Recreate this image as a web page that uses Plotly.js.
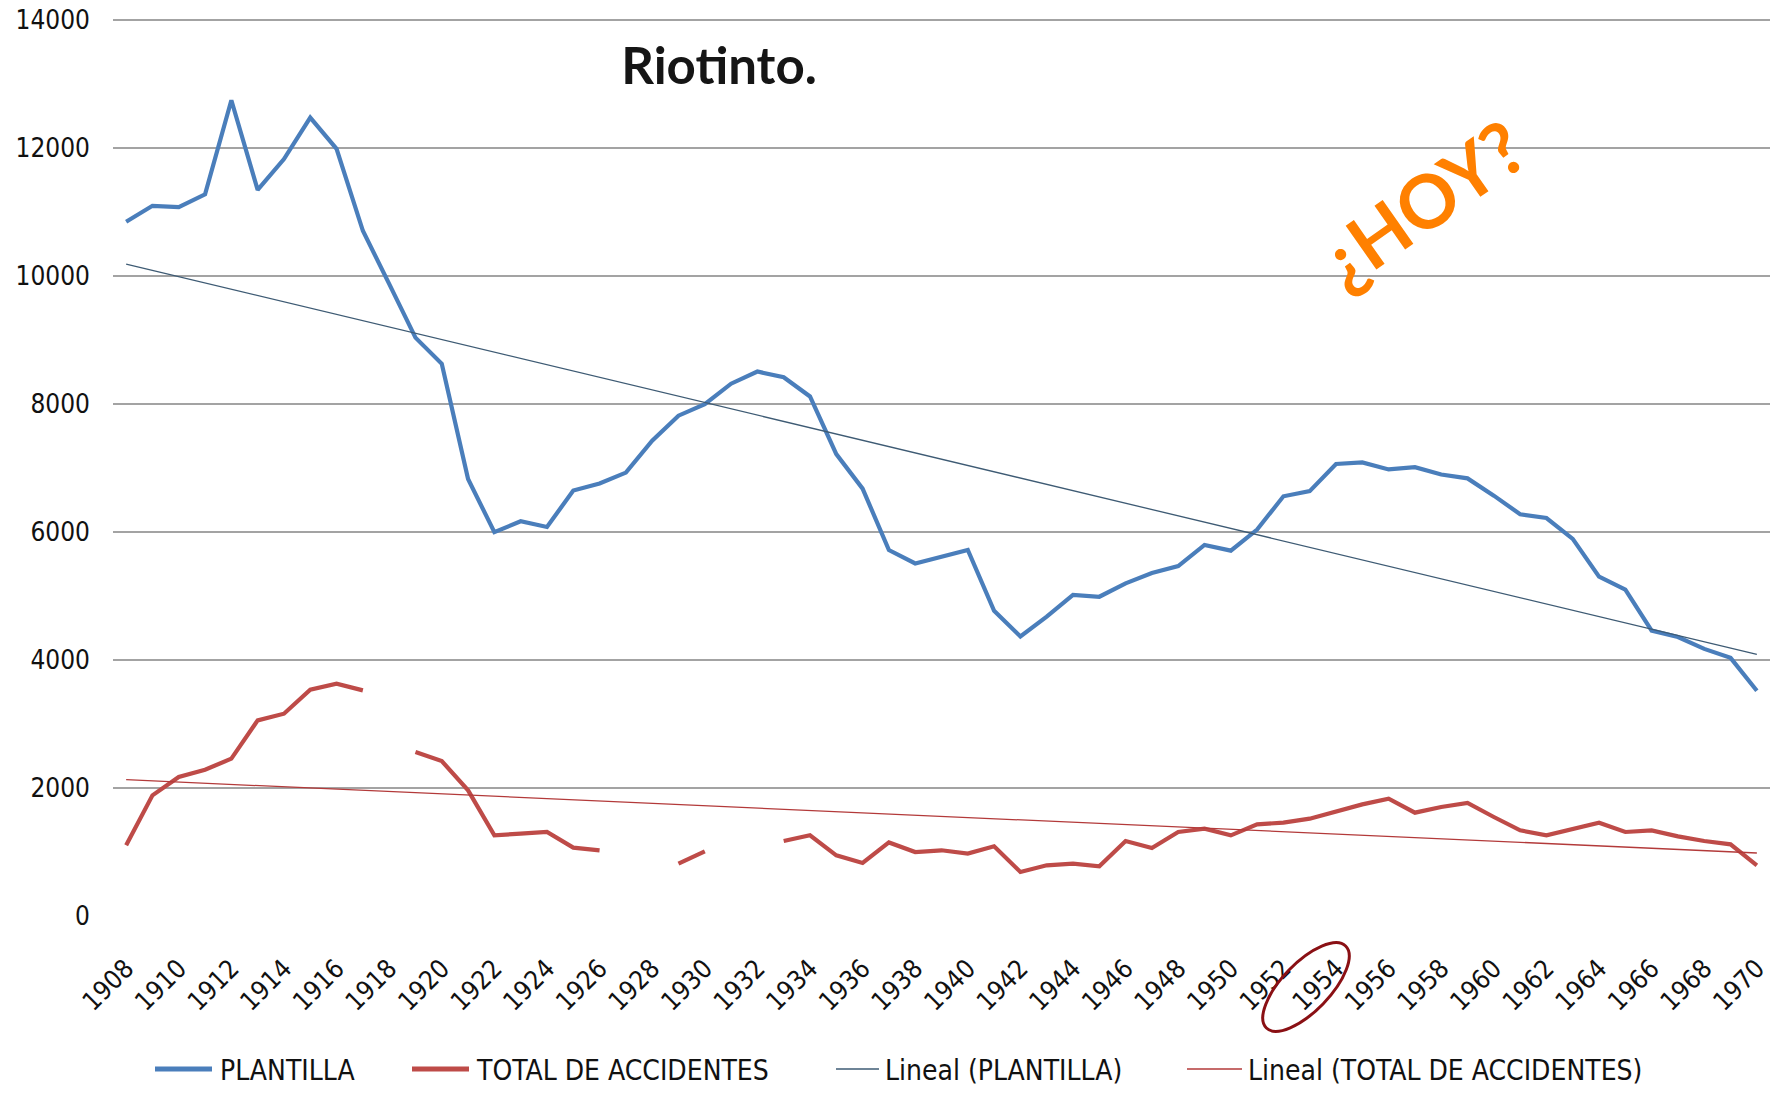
<!DOCTYPE html>
<html>
<head>
<meta charset="utf-8">
<script src="https://cdn.plot.ly/plotly-3.0.1.min.js"></script>
<style>
  html, body { margin: 0; padding: 0; background: #ffffff; }
  #chart { width: 1778px; height: 1096px; }
</style>
</head>
<body>
<div id="chart"></div>
<script>
// ---- Data ----
const years = [1908,1909,1910,1911,1912,1913,1914,1915,1916,1917,1918,1919,1920,1921,1922,1923,1924,1925,1926,1927,1928,1929,1930,1931,1932,1933,1934,1935,1936,1937,1938,1939,1940,1941,1942,1943,1944,1945,1946,1947,1948,1949,1950,1951,1952,1953,1954,1955,1956,1957,1958,1959,1960,1961,1962,1963,1964,1965,1966,1967,1968,1969,1970];

const plantilla = [10850,11100,11080,11280,12750,11350,11830,12480,11990,10710,9880,9040,8630,6830,6000,6170,6080,6650,6760,6930,7430,7820,8000,8320,8510,8420,8120,7220,6680,5720,5510,5620,5720,4770,4370,4680,5020,4990,5200,5360,5470,5800,5710,6040,6560,6640,7065,7090,6980,7015,6900,6840,6570,6280,6220,5895,5305,5100,4460,4360,4175,4035,3520];

const accidentes = [1105,1886,2172,2287,2459,3058,3162,3537,3631,3527,null,2563,2422,1964,1261,1287,1313,1069,1027,null,null,818,1011,null,null,1172,1261,948,828,1150,1000,1027,975,1089,688,792,818,777,1172,1063,1313,1365,1261,1433,1459,1521,1641,1745,1834,1615,1703,1766,1547,1339,1261,1365,1459,1313,1339,1245,1172,1120,792];

const trendYears = [1908, 1970];
const trendPlantilla = [10190, 4090];
const trendAccidentes = [2130, 985];

const seriesNames = ['PLANTILLA', 'TOTAL DE ACCIDENTES', 'Lineal (PLANTILLA)', 'Lineal (TOTAL DE ACCIDENTES)'];
const seriesColors = ['#4a7ebb', '#be4b48', '#3e5b74', '#b33a3a'];
const tickYears = [1908,1910,1912,1914,1916,1918,1920,1922,1924,1926,1928,1930,1932,1934,1936,1938,1940,1942,1944,1946,1948,1950,1952,1954,1956,1958,1960,1962,1964,1966,1968,1970];
const yTicks = [0,2000,4000,6000,8000,10000,12000,14000];
const chartTitle = 'Riotinto.';
const noteText = '¿HOY?';

// ---- Layout geometry ----
const W = 1778, H = 1096;
const M = {l: 113, r: 8, t: 19, b: 180};
const plotW = W - M.l - M.r, plotH = H - M.t - M.b;
const px2paperX = px => (px - M.l) / plotW;
const px2paperY = py => (H - M.b - py) / plotH;

const font = 'DejaVu Sans Condensed, DejaVu Sans, sans-serif';
const lineWidths = [4.2, 4.2, 1.3, 1.3];

const traces = [
  {x: years, y: plantilla, name: seriesNames[0], type: 'scatter', mode: 'lines',
   line: {color: seriesColors[0], width: lineWidths[0]}, connectgaps: false},
  {x: years, y: accidentes, name: seriesNames[1], type: 'scatter', mode: 'lines',
   line: {color: seriesColors[1], width: lineWidths[1]}, connectgaps: false},
  {x: trendYears, y: trendPlantilla, name: seriesNames[2], type: 'scatter', mode: 'lines',
   line: {color: seriesColors[2], width: lineWidths[2]}},
  {x: trendYears, y: trendAccidentes, name: seriesNames[3], type: 'scatter', mode: 'lines',
   line: {color: seriesColors[3], width: lineWidths[3]}}
];

// Ellipse around the circled year label (decoration), pixel space -> paper
function ellipsePath(cx, cy, a, b, angDeg) {
  const t = angDeg * Math.PI / 180;
  const ux = Math.cos(t), uy = -Math.sin(t);
  const vx = Math.sin(t), vy = Math.cos(t);
  const k = 0.5523;
  const P = (p, q) => [cx + p * ux + q * vx, cy + p * uy + q * vy];
  const toPaper = ([px, py]) => [px2paperX(px).toFixed(5), px2paperY(py).toFixed(5)];
  const pts = [
    [P(a, 0)],
    [P(a, k * b), P(k * a, b), P(0, b)],
    [P(-k * a, b), P(-a, k * b), P(-a, 0)],
    [P(-a, -k * b), P(-k * a, -b), P(0, -b)],
    [P(k * a, -b), P(a, -k * b), P(a, 0)]
  ];
  let d = 'M' + toPaper(pts[0][0]).join(',');
  for (let i = 1; i < pts.length; i++) {
    d += ' C' + pts[i].map(p => toPaper(p).join(',')).join(' ');
  }
  return d + ' Z';
}

// Legend drawn below the plot (sample line + label for each series)
const legendY = 1069;
const legendSampleX = [[155, 212], [412, 469], [836, 879], [1187, 1242]];
const legendTextX = [218, 474, 883, 1246];
const legendShapes = seriesNames.map((n, i) => ({
  type: 'line', xref: 'paper', yref: 'paper',
  x0: px2paperX(legendSampleX[i][0]), x1: px2paperX(legendSampleX[i][1]),
  y0: px2paperY(legendY), y1: px2paperY(legendY),
  line: {color: seriesColors[i], width: i < 2 ? 5 : 1.6}
}));
const legendTexts = seriesNames.map((n, i) => ({
  text: n, xref: 'paper', yref: 'paper',
  x: px2paperX(legendTextX[i]), y: px2paperY(legendY + 1),
  xanchor: 'left', yanchor: 'middle', showarrow: false,
  font: {family: font, size: 28, color: '#111111'}
}));

const layout = {
  width: W, height: H,
  margin: M,
  paper_bgcolor: '#ffffff', plot_bgcolor: '#ffffff',
  showlegend: false,
  title: {
    text: chartTitle,
    font: {family: 'Lato, sans-serif', size: 51, weight: 'bold', color: '#151515'},
    x: 719 / W, xanchor: 'center', xref: 'container',
    y: 1 - 66 / H, yanchor: 'middle', yref: 'container'
  },
  xaxis: {
    type: 'linear',
    range: [1907.5, 1970.5],
    tickmode: 'array', tickvals: tickYears, ticktext: tickYears.map(String),
    tickangle: -45,
    showgrid: false, zeroline: false, showline: false,
    ticks: '',
    ticklabelstandoff: 31,
    tickfont: {family: font, size: 26, color: '#111111'}
  },
  yaxis: {
    range: [0, 14020],
    tickmode: 'array', tickvals: yTicks, ticktext: yTicks.map(String),
    showgrid: true, gridcolor: '#a3a3a3', gridwidth: 2,
    zeroline: false, showline: false, ticks: '',
    ticklabelstandoff: 22,
    tickfont: {family: font, size: 26, color: '#111111'}
  },
  annotations: [{
    text: noteText,
    xref: 'paper', yref: 'paper',
    x: px2paperX(1421), y: px2paperY(203),
    xanchor: 'center', yanchor: 'middle',
    showarrow: false, textangle: -35,
    font: {family: 'Lato, sans-serif', size: 74, weight: 'bold', color: '#ff8000'}
  }].concat(legendTexts),
  shapes: [{
    type: 'path', xref: 'paper', yref: 'paper',
    path: ellipsePath(1306, 987, 57, 24, 46),
    line: {color: '#8a1014', width: 3}
  }].concat(legendShapes)
};

Plotly.newPlot('chart', traces, layout, {staticPlot: true, displayModeBar: false});
</script>
</body>
</html>
